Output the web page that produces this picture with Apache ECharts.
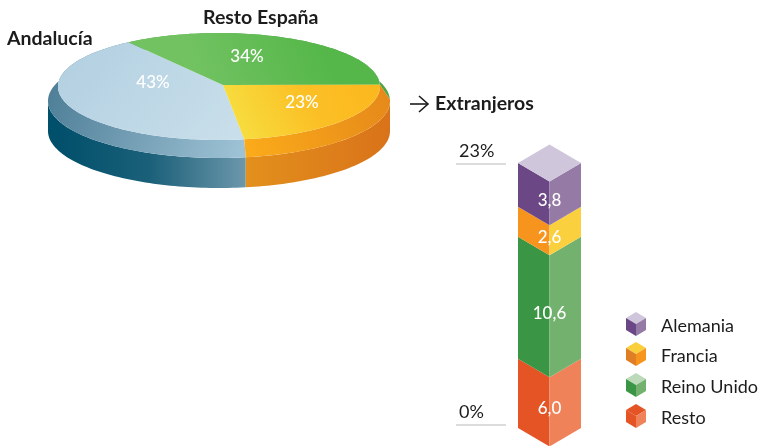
<!DOCTYPE html>
<html><head><meta charset="utf-8">
<style>html,body{margin:0;padding:0;background:#fff}#c{width:760px;height:446px}</style>
<script src="https://cdn.jsdelivr.net/npm/echarts@6/dist/echarts.min.js"></script>
</head><body><div id="c"></div>
<script>
// Pie data (share of total, %), clockwise
const pieNames = ['Andalucía', 'Resto España', 'Extranjeros'];
const pieValues = [43, 34, 23];
// Column data (percentage points), bottom to top
const barNames = ['Resto', 'Reino Unido', 'Francia', 'Alemania'];
const barValues = [6.0, 10.6, 2.6, 3.8];
const barTickValues = [0, 23];
const barTickLabels = ['0%', '23%'];
const legendNames = ['Alemania', 'Francia', 'Reino Unido', 'Resto'];

// Styling and layout only
const FONT = 'Lato';
const INK = '#1c1c1c';
const P = {cx: 219, top: {cy: 86.5, rx: 161, ry: 53.5}, rim: {cy: 101, rx: 171, ry: 57}, depth: 30, apex: [223, 85], start: 171};
const grad = (x, y, x2, y2, stops) => ({type: 'linear', x, y, x2, y2, global: true,
  colorStops: stops.map((c, i) => ({offset: i / (stops.length - 1), color: c}))});
const pieTop = [
  grad(90, 40, 220, 145, ['#b4d1e2', '#c8deea']),
  grad(320, 40, 200, 85, ['#55b749', '#72c262']),
  grad(380, 80, 245, 145, ['#fcb71e', '#fbc025', '#f7dd3f'])];
const pieLedge = [
  grad(50, 90, 245, 158, ['#4f7f98', '#a0c4d7']),
  '#4fa544',
  grad(245, 150, 390, 90, ['#fbab1a', '#e5881a'])];
const pieSide = [
  grad(55, 0, 245, 0, ['#004f6b', '#1b6079', '#6c97ab']),
  '#4fa544',
  grad(245, 0, 390, 0, ['#e3901d', '#d97319'])];
const pieLabelPos = [[153, 83], [247, 57], [302, 103]];
const pieNamePos = [[7, 39, 'left'], [203, 18, 'left'], [435, 104, 'left']];
const barFaces = [
  {l: '#e55424', r: '#ef8258'},
  {l: '#3a9645', r: '#72b26e'},
  {l: '#f7941e', r: '#fad03e'},
  {l: '#6b4785', r: '#967aa6', t: '#cfc6dc'}];
const legendCubes = [
  {t: '#cfc6dc', l: '#6b4785', r: '#967aa6', y: 324},
  {t: '#f9cf3c', l: '#e07e26', r: '#f7941e', y: 354},
  {t: '#bcdab9', l: '#3a9645', r: '#72b26e', y: 385},
  {t: '#e55424', l: '#e55424', r: '#ef8258', y: 416}];
const legendX = 636, legendTextX = 661;

const cum = [];
pieValues.reduce((s, v, i) => (cum[i] = s, s + v), 0);
const total = pieValues.reduce((a, b) => a + b, 0);
const rangeOf = (i, val) => {
  const a = P.start + cum[i] / total * 360;
  return [a, a + val / total * 360];
};
const pt = (e, deg, cy) => {
  const r = deg * Math.PI / 180;
  return [P.cx + e.rx * Math.sin(r), (cy === undefined ? e.cy : cy) - e.ry * Math.cos(r)];
};
const arc = (e, a, b, cy) => {
  const n = Math.max(2, Math.ceil(Math.abs(b - a) / 1.5)), out = [];
  for (let k = 0; k <= n; k++) out.push(pt(e, a + (b - a) * k / n, cy));
  return out;
};
const poly = (points, fill) => ({type: 'polygon', shape: {points}, style: {fill}});

function renderSide(params, api) {
  const i = params.dataIndex, [a, b] = rangeOf(i, api.value(0)), children = [];
  [[90, 270], [450, 630]].forEach(([lo, hi]) => {
    const s = Math.max(a, lo), t = Math.min(b, hi);
    if (t > s) children.push(poly(
      arc(P.rim, s, t).concat(arc(P.rim, t, s, P.rim.cy + P.depth)), pieSide[i]));
  });
  return {type: 'group', children};
}
function renderLedge(params, api) {
  const i = params.dataIndex, [a, b] = rangeOf(i, api.value(0));
  return poly(arc(P.rim, a, b).concat(arc(P.top, b, a)), pieLedge[i]);
}
function renderTop(params, api) {
  const i = params.dataIndex, [a, b] = rangeOf(i, api.value(0));
  return {type: 'group', children: [
    poly([P.apex].concat(arc(P.top, a, b)), pieTop[i]),
    {type: 'text', x: pieLabelPos[i][0], y: pieLabelPos[i][1], z2: 5,
     style: {text: api.value(0) + '%', fill: '#fff', font: '500 17px ' + FONT, align: 'center', verticalAlign: 'middle'}},
    {type: 'text', x: pieNamePos[i][0], y: pieNamePos[i][1], z2: 5,
     style: {text: pieNames[i], fill: INK, font: 'bold 19.5px ' + FONT, align: 'left', verticalAlign: 'middle'}}
  ]};
}
const barStart = barValues.map((_, i) => barValues.slice(0, i).reduce((a, b) => a + b, 0));
function renderBar(params, api) {
  const i = params.dataIndex, val = api.value(1);
  const [x, y0] = api.coord([0, barStart[i]]);
  const y1 = api.coord([0, barStart[i] + val])[1];
  const w = api.size([1, 0])[0] / 2, rise = w * 0.587, f = barFaces[i];
  const children = [
    poly([[x - w, y0], [x, y0 + rise], [x, y1 + rise], [x - w, y1]], f.l),
    poly([[x + w, y0], [x, y0 + rise], [x, y1 + rise], [x + w, y1]], f.r)
  ];
  if (f.t) children.push(poly([[x - w, y1], [x, y1 - rise], [x + w, y1], [x, y1 + rise]], f.t));
  children.push({type: 'text', x, y: (y0 + y1) / 2 + rise - 3, z2: 5,
    style: {text: val.toFixed(1).replace('.', ','), fill: '#fff', font: '500 17px ' + FONT, align: 'center', verticalAlign: 'middle'}});
  return {type: 'group', children};
}
function renderTick(params, api) {
  const i = params.dataIndex, y = api.coord([0, api.value(1)])[1] + (i === 0 ? -3 : 1);
  return {type: 'group', children: [
    {type: 'line', shape: {x1: 456, y1: y, x2: 506, y2: y}, style: {stroke: '#b9b9b9', lineWidth: 1.2}},
    {type: 'text', x: 459, y: y - 13, style: {text: barTickLabels[i], fill: INK, font: '18px ' + FONT, align: 'left', verticalAlign: 'middle'}}
  ]};
}
function renderLegend(params, api) {
  const i = params.dataIndex, c = legendCubes[i], x = legendX, y = c.y, w = 10, h = 6;
  return {type: 'group', children: [
    poly([[x - w, y - h], [x, y - 2 * h], [x + w, y - h], [x, y]], c.t),
    poly([[x - w, y - h], [x, y], [x, y + 2 * h], [x - w, y + h]], c.l),
    poly([[x + w, y - h], [x, y], [x, y + 2 * h], [x + w, y + h]], c.r),
    {type: 'text', x: legendTextX, y: y + 2, style: {text: legendNames[i], fill: INK, font: '18px ' + FONT, align: 'left', verticalAlign: 'middle'}}
  ]};
}
function renderArrow() {
  const y = 104;
  return {type: 'group', children: [
    {type: 'line', shape: {x1: 410, y1: y, x2: 427, y2: y}, style: {stroke: INK, lineWidth: 1.6}},
    {type: 'polyline', shape: {points: [[419, y - 8], [428, y], [419, y + 8]]}, style: {stroke: INK, lineWidth: 1.6, fill: 'none'}}
  ]};
}

const pieData = pieValues.map(v => [v]);
const chart = echarts.init(document.getElementById('c'), null, {renderer: 'canvas'});
chart.setOption({
  animation: false,
  backgroundColor: '#fff',
  grid: {left: 518, width: 63, top: 163, height: 265, containLabel: false},
  xAxis: {type: 'category', data: ['Extranjeros'], show: false},
  yAxis: {type: 'value', min: 0, max: 23, show: false},
  series: [
    {type: 'custom', coordinateSystem: 'none', renderItem: renderSide, data: pieData, z: 1},
    {type: 'custom', coordinateSystem: 'none', renderItem: renderLedge, data: pieData, z: 2},
    {type: 'custom', coordinateSystem: 'none', renderItem: renderTop, data: pieData, z: 3},
    {type: 'custom', coordinateSystem: 'none', renderItem: renderArrow, data: [[0]], z: 3},
    {type: 'custom', renderItem: renderBar, data: barValues.map(v => [0, v]), encode: {x: 0, y: 1}, z: 3},
    {type: 'custom', renderItem: renderTick, data: barTickValues.map(v => [0, v]), encode: {x: 0, y: 1}, z: 3},
    {type: 'custom', coordinateSystem: 'none', renderItem: renderLegend, data: legendNames.map((_, i) => [i]), z: 3}
  ]
});
</script></body></html>
